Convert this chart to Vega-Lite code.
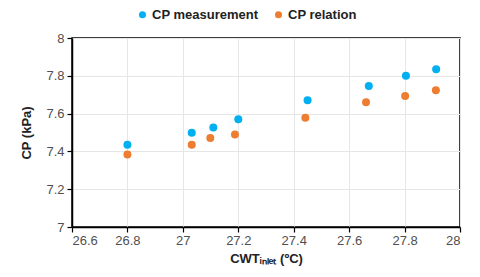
{
  "$schema": "https://vega.github.io/schema/vega-lite/v6.json",
  "autosize": "none",
  "width": 388,
  "height": 189,
  "padding": {"left": 72, "top": 38, "right": 20, "bottom": 50},
  "background": "white",
  "config": {
    "font": "Liberation Sans",
    "view": {"stroke": "#000000", "strokeWidth": 1.5},
    "axis": {
      "domainColor": "#000000",
      "domainWidth": 1.5,
      "tickColor": "#000000",
      "tickWidth": 1.2,
      "tickSize": 5,
      "gridColor": "#E6E6E6",
      "gridWidth": 1,
      "labelFontSize": 13,
      "labelColor": "#505050",
      "titleFontSize": 13,
      "titleFontWeight": "bold",
      "titleColor": "#222222",
      "format": "~g"
    }
  },
  "data": {
    "values": [
      {"cwt": 26.80, "cp": 7.435, "series": "CP measurement"},
      {"cwt": 27.032, "cp": 7.499, "series": "CP measurement"},
      {"cwt": 27.11, "cp": 7.527, "series": "CP measurement"},
      {"cwt": 27.20, "cp": 7.570, "series": "CP measurement"},
      {"cwt": 27.45, "cp": 7.670, "series": "CP measurement"},
      {"cwt": 27.671, "cp": 7.746, "series": "CP measurement"},
      {"cwt": 27.805, "cp": 7.800, "series": "CP measurement"},
      {"cwt": 27.914, "cp": 7.834, "series": "CP measurement"},
      {"cwt": 26.80, "cp": 7.383, "series": "CP relation"},
      {"cwt": 27.032, "cp": 7.435, "series": "CP relation"},
      {"cwt": 27.099, "cp": 7.471, "series": "CP relation"},
      {"cwt": 27.188, "cp": 7.490, "series": "CP relation"},
      {"cwt": 27.442, "cp": 7.578, "series": "CP relation"},
      {"cwt": 27.661, "cp": 7.660, "series": "CP relation"},
      {"cwt": 27.802, "cp": 7.693, "series": "CP relation"},
      {"cwt": 27.913, "cp": 7.723, "series": "CP relation"}
    ]
  },
  "mark": {"type": "circle", "size": 64, "opacity": 1},
  "encoding": {
    "x": {
      "field": "cwt",
      "type": "quantitative",
      "scale": {"domain": [26.6, 28], "nice": false, "zero": false},
      "axis": {
        "values": [26.6, 26.8, 27, 27.2, 27.4, 27.6, 27.8, 28],
        "title": "CWTᵢₙₗₑₜ (ºC)",
        "labelPadding": 2,
        "titlePadding": 5
      }
    },
    "y": {
      "field": "cp",
      "type": "quantitative",
      "scale": {"domain": [7, 8], "nice": false, "zero": false},
      "axis": {
        "values": [7, 7.2, 7.4, 7.6, 7.8, 8],
        "title": "CP (kPa)",
        "labelPadding": 3,
        "titlePadding": 12
      }
    },
    "color": {
      "field": "series",
      "type": "nominal",
      "scale": {"domain": ["CP measurement", "CP relation"], "range": ["#00B0F0", "#ED7D31"]},
      "legend": {
        "title": null,
        "orient": "none",
        "direction": "horizontal",
        "legendX": 64,
        "legendY": -30,
        "symbolType": "circle",
        "symbolSize": 50,
        "labelFontSize": 13,
        "labelFontWeight": "bold",
        "labelColor": "#222222",
        "columnPadding": 13,
        "labelOffset": 3,
        "encode": {
          "symbols": {
            "update": {
              "fill": {"signal": "datum.index === 0 ? '#4472C4' : '#ED7D31'"},
              "stroke": {"value": "transparent"}
            }
          }
        }
      }
    }
  }
}
